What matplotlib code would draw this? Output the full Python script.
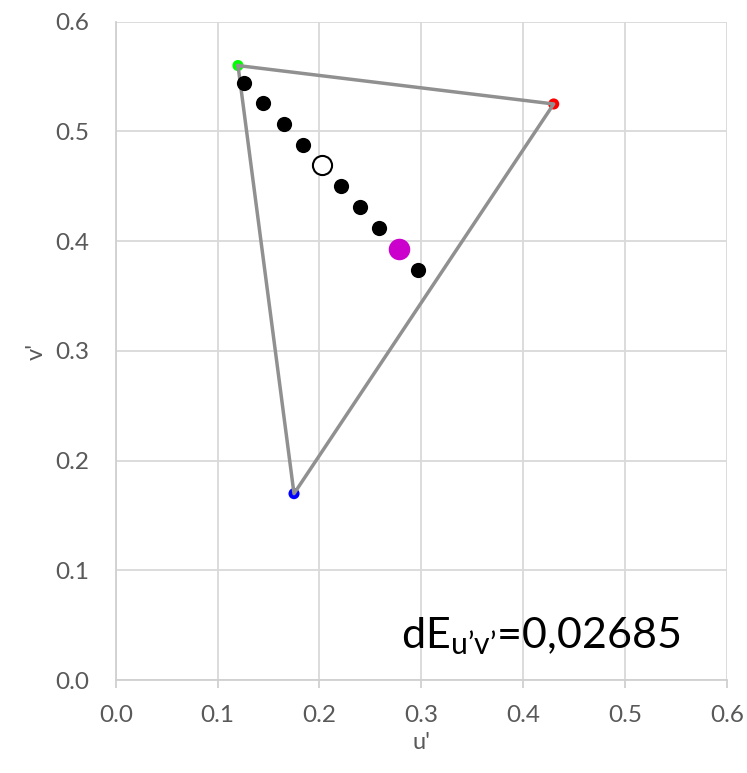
import matplotlib
matplotlib.use("Agg")
import matplotlib.pyplot as plt

plt.rcParams['font.family'] = ['Lato', 'DejaVu Sans']
plt.rcParams['mathtext.fontset'] = 'custom'
plt.rcParams['mathtext.rm'] = 'Lato'

# gamut primaries (u', v')
prim_u = [0.120, 0.430, 0.175]
prim_v = [0.560, 0.525, 0.170]
prim_col = ['#00ff00', '#ff0000', '#0000ff']

# measured points along the line
pts_u = [0.126, 0.145, 0.165, 0.184, 0.221, 0.240, 0.258, 0.297]
pts_v = [0.544, 0.526, 0.507, 0.488, 0.450, 0.431, 0.412, 0.374]

white_u, white_v = 0.202, 0.469
mag_u, mag_v = 0.278, 0.393

dE_text = "0,02685"

fig = plt.figure(figsize=(7.47, 7.73), dpi=100)
ax = fig.add_axes([0.155, 0.120, 0.818, 0.852])

ax.plot(prim_u + [prim_u[0]], prim_v + [prim_v[0]], color='#909090', lw=2.5, zorder=3)
ax.scatter(prim_u, prim_v, s=64, c=prim_col, zorder=2, linewidths=0)
ax.scatter(pts_u, pts_v, s=120, c='black', zorder=4, linewidths=0)
ax.scatter([white_u], [white_v], s=190, facecolor='white', edgecolor='black', linewidths=1.5, zorder=4)
ax.scatter([mag_u], [mag_v], s=240, c='#cc00cc', zorder=4, linewidths=0)

ax.set_xlim(0, 0.6)
ax.set_ylim(0, 0.6)
ticks = [0.0, 0.1, 0.2, 0.3, 0.4, 0.5, 0.6]
ax.set_xticks(ticks)
ax.set_yticks(ticks)
ax.set_xticklabels([f"{t:.1f}" for t in ticks])
ax.set_yticklabels([f"{t:.1f}" for t in ticks])
ax.grid(True, color='#d9d9d9', lw=1.3)
ax.set_axisbelow(True)
for side in ['top', 'right']:
    ax.spines[side].set_visible(False)
for side in ['left', 'bottom']:
    ax.spines[side].set_color('#d0d0d0')
    ax.spines[side].set_linewidth(1.3)
ax.tick_params(axis='x', colors='#d0d0d0', labelcolor='#595959', labelsize=17.5, length=6, width=1.3, pad=12)
ax.tick_params(axis='y', length=0, labelcolor='#595959', labelsize=17.5, pad=19)

ax.set_xlabel("u'", color='#595959', fontsize=17, labelpad=4)
ax.set_ylabel("v'", color='#595959', fontsize=17, labelpad=6)

ax.text(0.417, 0.040, "dE$_{\\mathregular{u\u2019v\u2019}}$=" + dE_text, fontsize=31, color='black',
        ha='center', va='center')

fig.savefig("out.png", dpi=100)
